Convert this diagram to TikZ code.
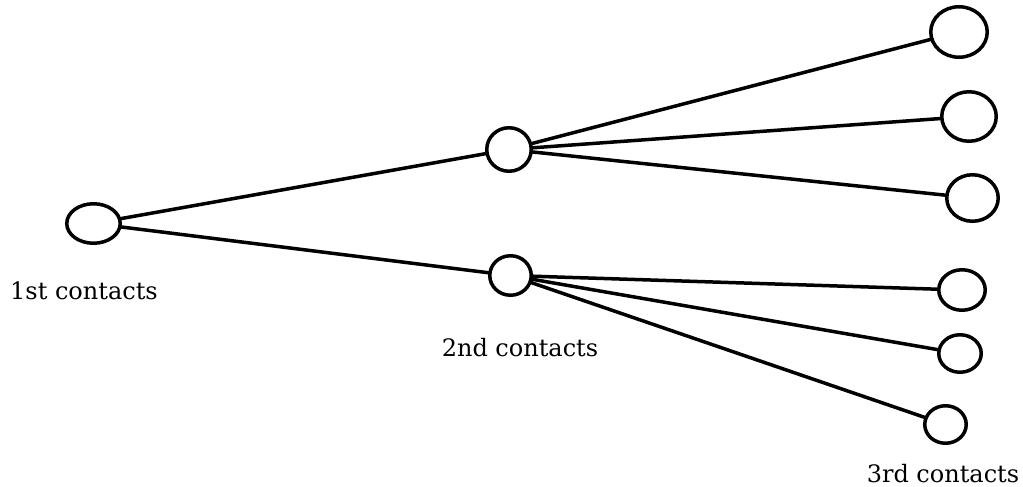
\documentclass[tikz,border=0pt]{standalone}
\usetikzlibrary{shapes.geometric}
\usepackage{fontspec}
\setmainfont{DejaVu Serif}
\begin{document}
\begin{tikzpicture}[x=1pt,y=-1pt,
  contact/.style={draw=black, line width=3.5pt, ellipse, inner sep=0pt, fill=white},
  link/.style={line width=3.5pt, line cap=round},
  lbl/.style={font=\fontsize{24}{28}\selectfont, anchor=base, inner sep=0pt}]
\useasboundingbox (0,0) rectangle (1023,487);
\node[contact, minimum width=53.5pt, minimum height=39.5pt] (a) at (93.5,223.5) {};
\node[contact, minimum width=44.5pt, minimum height=43.5pt] (b1) at (509,149.5) {};
\node[contact, minimum width=41.5pt, minimum height=39.5pt] (b2) at (510.5,275.5) {};
\node[contact, minimum width=56.5pt, minimum height=50.5pt] (c1) at (959,32) {};
\node[contact, minimum width=54.5pt, minimum height=49.5pt] (c2) at (969,116.5) {};
\node[contact, minimum width=51.5pt, minimum height=46.5pt] (c3) at (972.5,198) {};
\node[contact, minimum width=46.5pt, minimum height=40.5pt] (c4) at (962,290) {};
\node[contact, minimum width=42.5pt, minimum height=37.5pt] (c5) at (960,353.5) {};
\node[contact, minimum width=41.5pt, minimum height=37.5pt] (c6) at (945.5,424.5) {};
\draw[link] (a) -- (b1);
\draw[link] (a) -- (b2);
\draw[link] (b1) -- (c1);
\draw[link] (b1) -- (c2);
\draw[link] (b1) -- (c3);
\draw[link] (b2) -- (c4);
\draw[link] (b2) -- (c5);
\draw[link] (b2) -- (c6);
\node[lbl] (l1) at (84,299) {1st contacts};
\node[lbl] (l2) at (520,356) {2nd contacts};
\node[lbl] (l3) at (943,482) {3rd contacts};
\end{tikzpicture}
\end{document}
